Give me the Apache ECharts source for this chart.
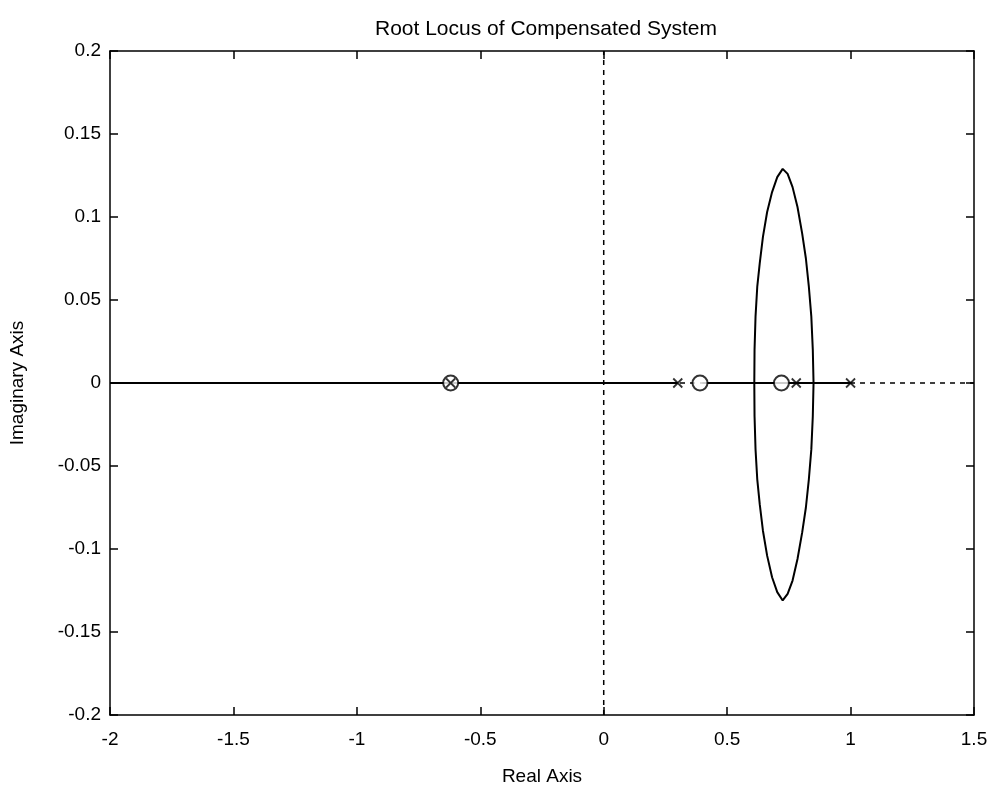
<!DOCTYPE html>
<html>
<head>
<meta charset="utf-8">
<script src="https://cdn.jsdelivr.net/npm/echarts@6/dist/echarts.min.js"></script>
<style>
html,body{margin:0;padding:0;background:#fff;}
#c{width:993px;height:791px;}
</style>
</head>
<body>
<div id="c"></div>
<script>
// ---- data ----
const chartTitle = 'Root Locus of Compensated System';
const xName = 'Real Axis';
const yName = 'Imaginary Axis';
const xRange = [-2, 1.5];
const yRange = [-0.2, 0.2];
// solid locus segments on the real axis [from, to]
const realSegments = [[-2, 0.3], [0.4, 1.0]];
// complex branch, upper half [re, im]
const upperBranch = [
  [0.610, 0.000], [0.611, 0.020], [0.615, 0.040], [0.622, 0.058], [0.632, 0.072],
  [0.645, 0.088], [0.662, 0.103], [0.682, 0.115], [0.703, 0.124], [0.725, 0.129],
  [0.745, 0.126], [0.765, 0.118], [0.785, 0.106], [0.804, 0.090], [0.819, 0.075],
  [0.831, 0.058], [0.841, 0.040], [0.847, 0.020], [0.850, 0.000]
];
// complex branch, lower half [re, im]
const lowerBranch = [
  [0.610, 0.000], [0.611, -0.020], [0.615, -0.040], [0.622, -0.058], [0.632, -0.073],
  [0.645, -0.089], [0.662, -0.104], [0.682, -0.117], [0.703, -0.126], [0.725, -0.131],
  [0.745, -0.127], [0.765, -0.119], [0.785, -0.106], [0.804, -0.090], [0.819, -0.075],
  [0.831, -0.058], [0.841, -0.040], [0.847, -0.020], [0.850, 0.000]
];
const zeros = [-0.62, 0.39, 0.72];
const poles = [-0.62, 0.30, 0.78, 1.00];

// ---- build chart ----
const fmt = v => String(parseFloat(Number(v).toFixed(2)));
const segData = [];
realSegments.forEach((s, i) => {
  if (i > 0) segData.push([null, null]);
  segData.push([s[0], 0]);
  segData.push([s[1], 0]);
});
const font = '"Liberation Sans", Arial, sans-serif';
const black = '#000';

const chart = echarts.init(document.getElementById('c'), null, {renderer: 'canvas'});
const axisCommon = {
  type: 'value',
  axisLine: {show: true, onZero: false, lineStyle: {color: black, width: 1.5}},
  axisTick: {show: true, inside: true, length: 8, lineStyle: {color: black, width: 1.5}},
  splitLine: {show: false}
};
chart.setOption({
  backgroundColor: '#fff',
  animation: false,
  title: {
    text: chartTitle,
    left: 541, top: 14, textAlign: 'center',
    textStyle: {fontFamily: '"Liberation Sans Narrow", "Liberation Sans", Arial', fontSize: 21, fontWeight: 'normal', color: black}
  },
  grid: {left: 110, right: 19, top: 51, bottom: 70, containLabel: false},
  xAxis: [
    Object.assign({}, axisCommon, {
      min: xRange[0], max: xRange[1], interval: 0.5, position: 'bottom',
      name: xName, nameLocation: 'middle', nameGap: 52,
      nameTextStyle: {fontFamily: font, fontSize: 19, color: black},
      axisLabel: {show: true, margin: 15, formatter: fmt, fontFamily: font, fontSize: 19, color: black}
    }),
    Object.assign({}, axisCommon, {
      min: xRange[0], max: xRange[1], interval: 0.5, position: 'top',
      axisLabel: {show: false}
    })
  ],
  yAxis: [
    Object.assign({}, axisCommon, {
      min: yRange[0], max: yRange[1], interval: 0.05, position: 'left',
      name: yName, nameLocation: 'middle', nameGap: 83,
      nameTextStyle: {fontFamily: font, fontSize: 19, color: black},
      axisLabel: {show: true, margin: 9, formatter: fmt, fontFamily: font, fontSize: 19, color: black}
    }),
    Object.assign({}, axisCommon, {
      min: yRange[0], max: yRange[1], interval: 0.05, position: 'right',
      axisLabel: {show: false}
    })
  ],
  series: [
    {
      type: 'line', name: 'imag ref', data: [[0, yRange[0]], [0, yRange[1]]],
      symbol: 'none', lineStyle: {color: black, width: 1.5, type: [5, 5]}, z: 1
    },
    {
      type: 'line', name: 'real ref', data: [[xRange[0], 0], [xRange[1], 0]],
      symbol: 'none', lineStyle: {color: black, width: 1.5, type: [5, 5]}, z: 1
    },
    {
      type: 'line', name: 'real locus', data: segData, connectNulls: false,
      symbol: 'none', lineStyle: {color: black, width: 2}, z: 2
    },
    {
      type: 'line', name: 'upper', data: upperBranch,
      symbol: 'none', lineStyle: {color: black, width: 2}, z: 2
    },
    {
      type: 'line', name: 'lower', data: lowerBranch,
      symbol: 'none', lineStyle: {color: black, width: 2}, z: 2
    },
    {
      type: 'scatter', name: 'zeros', data: zeros.map(v => [v, 0]),
      symbol: 'circle', symbolSize: 15,
      itemStyle: {color: '#fff', borderColor: black, borderWidth: 2}, z: 3
    },
    {
      type: 'scatter', name: 'poles', data: poles.map(v => [v, 0]),
      symbol: 'path://M0,0L10,10M10,0L0,10', symbolSize: 9,
      itemStyle: {color: 'rgba(0,0,0,0)', borderColor: black, borderWidth: 1.8}, z: 4
    }
  ]
});
</script>
</body>
</html>
